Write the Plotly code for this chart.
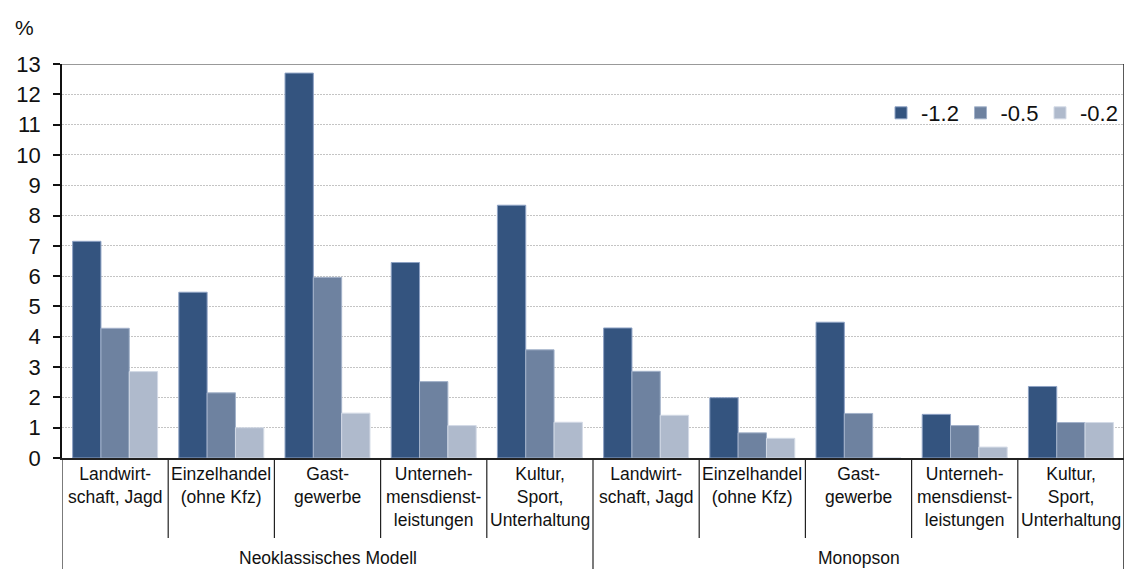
import plotly.graph_objects as go

# Sectors (x positions 0..9), grouped by model
sectors = [
    "Landwirt-<br>schaft, Jagd", "Einzelhandel<br>(ohne Kfz)", "Gast-<br>gewerbe",
    "Unterneh-<br>mensdienst-<br>leistungen", "Kultur,<br>Sport,<br>Unterhaltung",
    "Landwirt-<br>schaft, Jagd", "Einzelhandel<br>(ohne Kfz)", "Gast-<br>gewerbe",
    "Unterneh-<br>mensdienst-<br>leistungen", "Kultur,<br>Sport,<br>Unterhaltung",
]
models = ["Neoklassisches Modell", "Monopson"]

series_names = ["-1.2", "-0.5", "-0.2"]
values_12 = [7.15, 5.47, 12.70, 6.45, 8.34, 4.29, 1.99, 4.48, 1.44, 2.36]
values_05 = [4.28, 2.15, 5.96, 2.52, 3.57, 2.86, 0.83, 1.47, 1.07, 1.17]
values_02 = [2.85, 1.00, 1.48, 1.07, 1.18, 1.41, 0.65, 0.00, 0.36, 1.17]

colors = ["#34547F", "#6E82A0", "#AFBACC"]
edge_colors = ["#8EA2C4", "#A3B2CA", "#D3DAE6"]

W, H = 1128, 569
ML, MR, MT, MB = 62, 4, 64, 111
plot_w = W - ML - MR
plot_h = H - MT - MB
FONT = "Liberation Sans, Arial, sans-serif"


def py(pixel):
    """Convert a pixel row (from the top) into paper coordinates."""
    return (H - MB - pixel) / plot_h


def px(pixel):
    """Convert a pixel column (from the left) into paper coordinates."""
    return (pixel - ML) / plot_w


x = list(range(len(sectors)))
fig = go.Figure()
for name, vals, col, edge in zip(series_names, [values_12, values_05, values_02], colors, edge_colors):
    fig.add_trace(go.Bar(
        x=x, y=vals, name=name,
        marker=dict(color=col, line=dict(color=edge, width=1)),
    ))

shapes = []
# white panel behind the legend, hiding the grid lines there
shapes.append(dict(type="rect", xref="paper", yref="paper", x0=px(870), x1=px(1123),
                   y0=py(140), y1=py(72), fillcolor="white", line=dict(width=0), layer="below"))
# top border (solid) of the plot area
shapes.append(dict(type="line", xref="paper", yref="y", x0=0, x1=1, y0=13, y1=13,
                   line=dict(color="#777777", width=1.5)))
# right border, continuing down through the label area
shapes.append(dict(type="line", xref="x", yref="paper", x0=9.5, x1=9.5, y0=1, y1=py(H + 2),
                   line=dict(color="#222222", width=1.5)))
# outer dividers between the model groups
for xb in [-0.5, 4.5]:
    shapes.append(dict(type="line", xref="x", yref="paper", x0=xb, x1=xb, y0=0, y1=py(H + 2),
                       line=dict(color="#222222", width=1.2)))
# inner dividers between sectors
for xb in [0.5, 1.5, 2.5, 3.5, 5.5, 6.5, 7.5, 8.5]:
    shapes.append(dict(type="line", xref="x", yref="paper", x0=xb, x1=xb, y0=0, y1=py(538),
                       line=dict(color="#222222", width=1.2)))

annotations = []
for i, lab in enumerate(sectors):
    annotations.append(dict(x=i, y=py(462), xref="x", yref="paper", text=lab,
                            showarrow=False, xanchor="center", yanchor="top", align="center",
                            font=dict(family=FONT, size=17.5, color="#111111")))
for j, m in enumerate(models):
    annotations.append(dict(x=2 + 5 * j, y=py(558), xref="x", yref="paper", text=m,
                            showarrow=False, xanchor="center", yanchor="middle",
                            font=dict(family=FONT, size=17.5, color="#111111")))
annotations.append(dict(x=px(13), y=py(28), xref="paper", yref="paper",
                        text="%", showarrow=False, xanchor="left", yanchor="middle",
                        font=dict(family=FONT, size=21, color="#111111")))

fig.update_layout(
    width=W, height=H,
    margin=dict(l=ML, r=MR, t=MT, b=MB, autoexpand=False),
    paper_bgcolor="white", plot_bgcolor="white",
    barmode="group", bargap=0.2, bargroupgap=0,
    font=dict(family=FONT, size=20, color="#111111"),
    showlegend=True,
    legend=dict(orientation="h", x=px(881), y=py(92),
                xanchor="left", yanchor="top", bgcolor="rgba(0,0,0,0)",
                font=dict(family=FONT, size=22, color="#111111"),
                entrywidth=34.5, itemwidth=30, tracegroupgap=0),
    xaxis=dict(range=[-0.5, 9.5], showgrid=False, zeroline=False, showticklabels=False,
               ticks="", showline=True, linecolor="#222222", linewidth=1.5),
    yaxis=dict(range=[0, 13], dtick=1, tick0=0, showgrid=True, gridcolor="#C4C4C4",
               griddash="2px,1px", gridwidth=1, zeroline=False, showline=True,
               linecolor="#111111", linewidth=1.5, ticks="outside", ticklen=7,
               tickcolor="#111111", tickwidth=1.5, ticklabelstandoff=8,
               tickfont=dict(family=FONT, size=22, color="#111111")),
    shapes=shapes, annotations=annotations,
)

fig.write_html("out.html")
